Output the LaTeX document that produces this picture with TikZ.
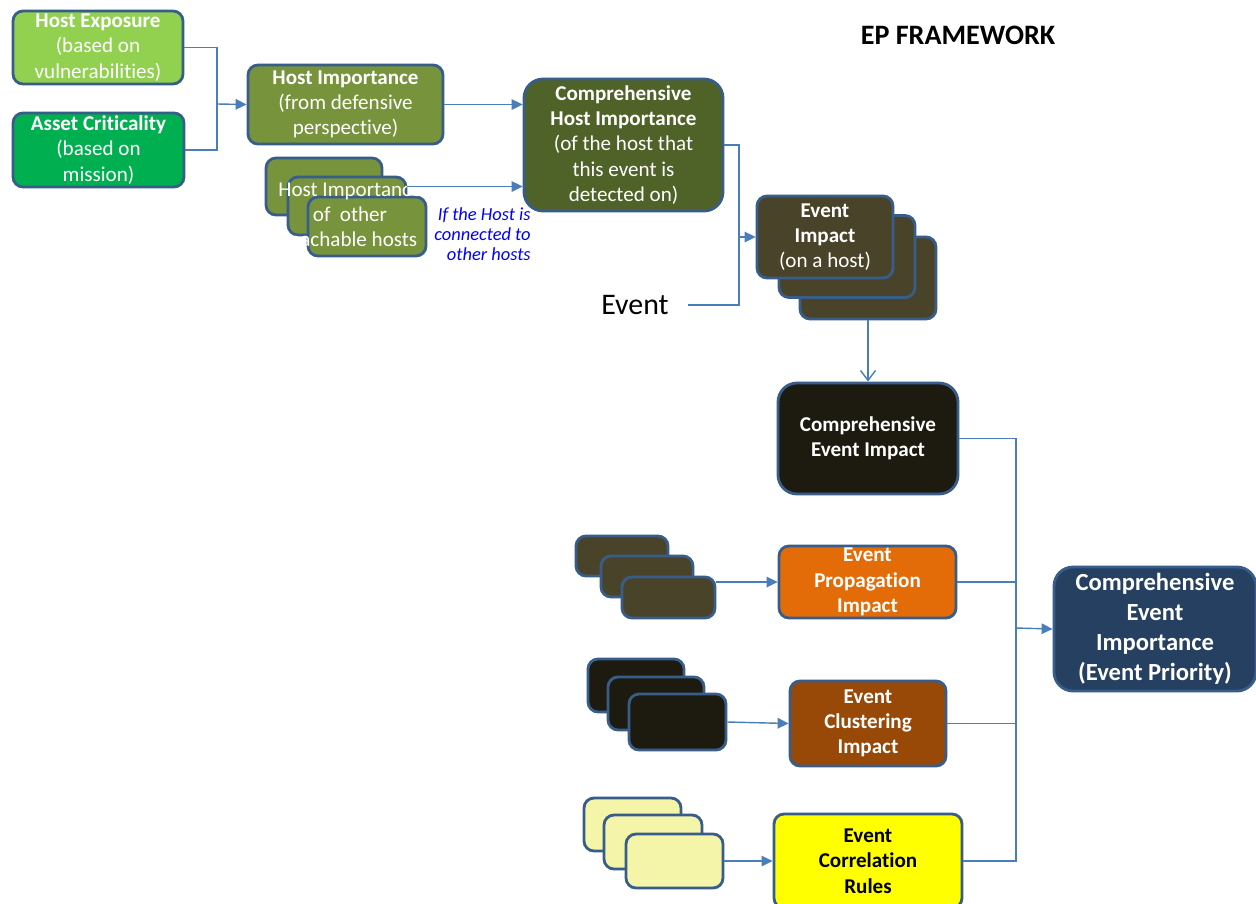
\documentclass[tikz,border=0pt]{standalone}
\usepackage{fontspec}
\setmainfont{Carlito}[Ligatures=NoCommon]
\usepackage{xcolor}
\usetikzlibrary{arrows.meta, calc}

\definecolor{bordc}{HTML}{385D8A}
\definecolor{linec}{HTML}{4A7EBB}
\definecolor{heg}{HTML}{92D050}
\definecolor{acg}{HTML}{00B050}
\definecolor{hig}{HTML}{77933C}
\definecolor{chig}{HTML}{4F6228}
\definecolor{eib}{HTML}{494429}
\definecolor{ceib}{HTML}{1D1B10}
\definecolor{epio}{HTML}{E36C09}
\definecolor{ecib}{HTML}{984807}
\definecolor{ecry}{HTML}{FFFF00}
\definecolor{rsy}{HTML}{F5F5AA}
\definecolor{cimpb}{HTML}{254061}
\definecolor{notec}{HTML}{0000FF}

\newcommand{\boxfont}{\fontsize{12}{14.4}\selectfont}

\tikzset{
  ww/.style={minimum width=#1*0.02cm},
  hh/.style={minimum height=#1*0.02cm},
  box/.style={draw=bordc, line width=1.6pt, rounded corners=0.2cm, text=white,
    align=center, font=\boxfont, inner sep=0pt},
  bigbox/.style={box, rounded corners=0.38cm},
  conn/.style={draw=linec, line width=0.8pt},
  arr/.style={conn, -{Triangle[length=2.2mm, width=2.1mm]}},
  openarr/.style={conn, -{Straight Barb[length=2mm, width=3mm]}},
}

\begin{document}
\begin{tikzpicture}[x=0.02cm, y=-0.02cm]
  \useasboundingbox[fill=white] (0,0) rectangle (1256,903);

  % Title
  \node[font=\fontsize{16}{19}\selectfont\bfseries] (title) at (958,35) {EP FRAMEWORK};

  % Host side
  \node[box, fill=heg, ww=170, hh=73] (he) at (98,47.5)
    {\textbf{Host Exposure}\\(based on\\vulnerabilities)};
  \node[box, fill=acg, ww=171, hh=74] (ac) at (98.5,150)
    {\textbf{Asset Criticality}\\(based on\\mission)};
  \node[box, fill=hig, ww=195, hh=79] (hi) at (345.5,104.5)
    {\textbf{Host Importance}\\(from defensive\\perspective)};

  \node[box, fill=hig, ww=116, hh=57] (hio1) at (324,186.5) {};
  \node[box, fill=hig, ww=118, hh=58] (hio2) at (347,206) {};
  \node[box, fill=hig, ww=118, hh=59] (hio3) at (367,226.5) {};
  \node[text=white, align=center, font=\boxfont, inner sep=0pt] (hiotxt) at (350,215)
    {Host Importance\\of\ \ other\\reachable hosts};
  \node[anchor=east, align=right, text=notec, inner sep=0pt,
    font=\fontsize{10.5}{11.5}\selectfont\itshape] (note) at (531,234)
    {If the Host is\\connected to\\other hosts};

  \node[bigbox, fill=chig, ww=199, hh=132] (chi) at (623.5,145)
    {\textbf{Comprehensive}\\\textbf{Host Importance}\\(of the host that\\this event is\\detected on)};

  % Event impact
  \node[box, fill=eib, ww=136, hh=82] (ei3) at (868,278) {};
  \node[box, fill=eib, ww=136, hh=82] (ei2) at (847,256.5) {};
  \node[box, fill=eib, ww=136, hh=82] (ei1) at (825,237)
    {\textbf{Event}\\\textbf{Impact}\\(on a host)};
  \node[font=\fontsize{17}{20}\selectfont, inner sep=0pt, inner xsep=11pt] (ev) at (635,305) {Event};

  \node[bigbox, fill=ceib, ww=180, hh=111] (cei) at (868,438.5)
    {\textbf{Comprehensive}\\\textbf{Event Impact}};

  % Propagation
  \node[box, fill=eib, ww=92, hh=40] (ps1) at (622,556) {};
  \node[box, fill=eib, ww=92, hh=41] (ps2) at (647,576.5) {};
  \node[box, fill=eib, ww=93, hh=41] (ps3) at (668.5,597.5) {};
  \node[box, fill=epio, ww=177, hh=72, font=\boxfont\bfseries] (epi) at (867.5,582)
    {Event\\Propagation\\Impact};

  % Clustering
  \node[box, fill=ceib, ww=96, hh=53] (cs1) at (636,685.5) {};
  \node[box, fill=ceib, ww=96, hh=53] (cs2) at (656,703.5) {};
  \node[box, fill=ceib, ww=97, hh=56] (cs3) at (677.5,722) {};
  \node[box, fill=ecib, ww=156, hh=85, font=\boxfont\bfseries] (eci) at (868,723.5)
    {Event\\Clustering\\Impact};

  % Correlation
  \node[box, fill=rsy, ww=97, hh=53] (rs1) at (632.5,824.5) {};
  \node[box, fill=rsy, ww=98, hh=54] (rs2) at (653,842) {};
  \node[box, fill=rsy, ww=97, hh=54] (rs3) at (674.5,861) {};
  \node[box, fill=ecry, ww=188, hh=94, text=black, font=\boxfont\bfseries] (ecr) at (868,861)
    {Event\\Correlation\\Rules};

  % Priority
  \node[bigbox, fill=cimpb, ww=202, hh=124, font=\fontsize{14}{17}\selectfont\bfseries] (cimp) at (1155,629)
    {Comprehensive\\Event\\Importance\\(Event Priority)};

  % Connectors
  \coordinate (j1) at (217,104);
  \draw[conn] (he.east) -| (j1);
  \draw[conn] (ac.east) -| (j1);
  \draw[arr] (j1) -- (hi.west);
  \draw[arr] (hi.east) -- (hi.east -| chi.west);
  \draw[arr] (hio1 -| hio2.east) -- (hio1 -| chi.west);

  \coordinate (j2) at (739,237);
  \draw[conn] (chi.east) -| (j2);
  \draw[conn] (ev.east) -| (j2);
  \draw[arr] (j2) -- (ei1.west);
  \draw[openarr] (ei3.south) -- (cei.north);

  \draw[arr] (ps3.east |- epi) -- (epi.west);
  \draw[arr] (cs3.east) -- (eci.west);
  \draw[arr] (rs3.east) -- (ecr.west);

  \coordinate (bus) at (1016,628);
  \draw[conn] (cei.east) -| (bus);
  \draw[conn] (epi.east) -| (bus);
  \draw[conn] (eci.east) -| (bus);
  \draw[conn] (ecr.east) -| (bus);
  \draw[arr] (bus) -- (cimp.west);
\end{tikzpicture}
\end{document}
